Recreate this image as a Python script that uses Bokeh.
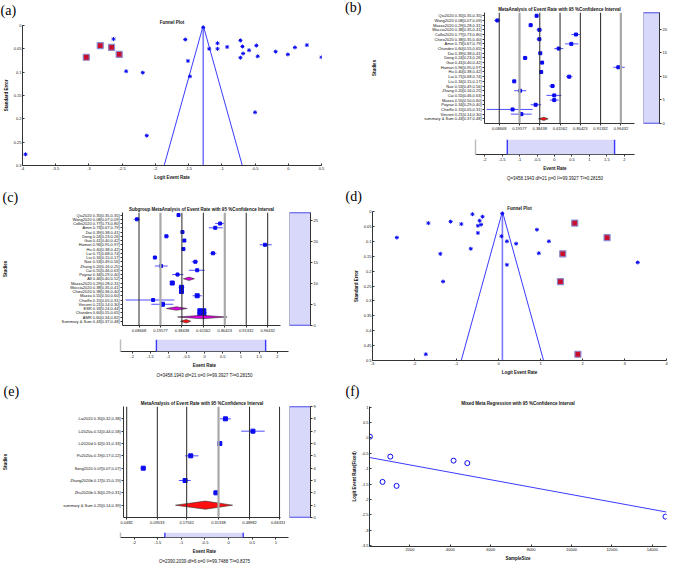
import numpy as np
from bokeh.plotting import figure
from bokeh.models import (Range1d, FixedTicker, Span, Title, BoxAnnotation, Div,
                          NumeralTickFormatter)
from bokeh.layouts import row, column
from bokeh.embed import file_html
from bokeh.resources import INLINE

SANS = "Liberation Sans"
SERIF = "Liberation Serif"
BLUE = "#3b3bff"
MARK = "#0a0af0"
LIGHTBLUE = "#7a7aff"
RED = "#ff1010"
SQRED = "#c8102e"
MAGENTA = "#dc00dc"
LAV = "#d8d8fa"
DARK = "#262626"
GRAY = "#a9a9a9"
TXT = "#111111"

# ================= DATA =================
# (a) funnel plot
a_logit = [-3.955, -2.63, -2.44, -2.19, -2.13, -1.55, -1.51, -1.48, -1.28, -1.19, -1.065, -1.065,
           -0.92, -0.72, -0.72, -0.69, -0.68, -0.59, -0.48, -0.46, -0.50, -0.19, -0.006, 0.10, 0.28, 0.50]
a_se = [0.276, 0.029, 0.098, 0.101, 0.236, 0.030, 0.076, 0.109, 0.004, 0.050, 0.038, 0.050,
        0.046, 0.032, 0.069, 0.045, 0.060, 0.053, 0.043, 0.066, 0.186, 0.056, 0.062, 0.047, 0.042, 0.068]
a_fill_logit = [-3.04, -2.83, -2.66, -2.545]
a_fill_se = [0.068, 0.043, 0.047, 0.062]
a_center = -1.28
a_xticks = [-4, -3.5, -3, -2.5, -2, -1.5, -1, -0.5, 0, 0.5]
a_yticks = [0, 0.05, 0.1, 0.15, 0.2, 0.25, 0.3]

# (d) funnel plot
d_logit = [-2.42, -1.67, -1.73, -1.385, -1.32, -1.14, -0.885, -0.66, -0.62, -0.49, -0.49, -0.45,
           -0.415, -0.38, 0.07, 0.09, 0.20, 0.20, 0.42, 0.915, 0.96, 1.20, 3.315]
d_se = [0.0875, 0.039, 0.479, 0.142, 0.235, 0.034, 0.042, 0.125, 0.009, 0.048, 0.072, 0.031,
        0.044, 0.0175, 0.083, 0.007, 0.100, 0.179, 0.108, 0.061, 0.140, 0.100, 0.171]
d_fill_logit = [1.815, 2.585, 1.53, 1.475, 1.89]
d_fill_se = [0.039, 0.0875, 0.142, 0.235, 0.479]
d_center = 0.093
d_xticks = [-3, -2, -1, 0, 1, 2, 3, 4]
d_yticks = [0, 0.05, 0.1, 0.15, 0.2, 0.25, 0.3, 0.35, 0.4, 0.45, 0.5]

# (b) meta-analysis forest plot
b_names = ["Qiu2020", "Wang2020", "Mazza2020", "Moccia2020", "Collis2020", "Chiex2020", "Amin",
           "Chundes", "Dai", "Dong", "Guo", "Hamari", "Hu", "Lai", "Liu", "Nair", "Zhang", "Cai",
           "Mazza", "Poyraz", "Chieffo", "Vincent", "summary & Sum"]
b_rate = [0.35, 0.08, 0.29, 0.38, 0.77, 0.38, 0.73, 0.60, 0.39, 0.24, 0.41, 0.96, 0.40, 0.71, 0.16,
          0.53, 0.20, 0.55, 0.55, 0.34, 0.15, 0.21, 0.43]
b_lo = [0.347, 0.07, 0.28, 0.35, 0.73, 0.35, 0.67, 0.55, 0.38, 0.23, 0.40, 0.95, 0.38, 0.68, 0.15,
        0.49, 0.16, 0.46, 0.50, 0.29, 0.05, 0.14, 0.37]
b_hi = [0.353, 0.09, 0.31, 0.41, 0.80, 0.40, 0.79, 0.65, 0.41, 0.26, 0.42, 0.97, 0.42, 0.74, 0.17,
        0.56, 0.25, 0.63, 0.60, 0.40, 0.31, 0.30, 0.48]
b_kind = ["s"] * 22 + ["t"]
b_ticks = ["0.08668", "0.19577", "0.38438", "0.61562", "0.80423", "0.91332", "0.96432"]
b_side_ticks = [0, 5, 10, 15, 20]
b_sens = [-1.35, 1.72]
b_stats = "Q=3458.1943 df=21 p=0 I\u00b2=99.3927 T\u00b2=0.28150"

# (c) subgroup forest plot
c_names = ["Qiu2020", "Wang2020", "Collis2020", "Amin", "Dai", "Dong", "Guo", "Hamari", "Hu", "Lai",
           "Liu", "Nair", "Zhang", "Cai", "Poyraz", "All", "Mazza2020", "Moccia2020", "Chiex2020",
           "Mazza", "Chieffo", "Vincent", "ESR", "Chundes", "AMR", "Summary & Sum"]
c_rate = [0.35, 0.08, 0.77, 0.73, 0.39, 0.24, 0.41, 0.96, 0.40, 0.71, 0.16, 0.53, 0.20, 0.55, 0.34,
          0.46, 0.29, 0.38, 0.38, 0.55, 0.15, 0.21, 0.33, 0.60, 0.60, 0.43]
c_lo = [0.347, 0.07, 0.73, 0.67, 0.38, 0.23, 0.40, 0.95, 0.38, 0.68, 0.15, 0.49, 0.16, 0.46, 0.29,
        0.40, 0.28, 0.35, 0.36, 0.50, 0.05, 0.14, 0.24, 0.55, 0.34, 0.37]
c_hi = [0.353, 0.09, 0.80, 0.79, 0.41, 0.26, 0.42, 0.97, 0.42, 0.74, 0.17, 0.56, 0.25, 0.63, 0.40,
        0.52, 0.31, 0.41, 0.40, 0.60, 0.31, 0.30, 0.44, 0.65, 0.82, 0.48]
c_kind = ["s"] * 15 + ["g"] + ["s"] * 6 + ["g", "s", "g", "t"]
c_ticks = ["0.08668", "0.19577", "0.38438", "0.61562", "0.80423", "0.91332", "0.96432"]
c_side_ticks = [0, 5, 10, 15, 20, 25]
c_sens = [-1.33, 1.68]
c_stats = "Q=3458.1943 df=21 p=0 I\u00b2=99.3927 T\u00b2=0.28150"

# (e) forest plot
e_names = ["Lai2020", "Li2020a", "Li2020d", "Pu2020a", "Song2020", "Zhang2020b", "Zhu2020b",
           "summary & Sum"]
e_rate = [0.35, 0.51, 0.32, 0.19, 0.07, 0.17, 0.30, 0.25]
e_lo = [0.32, 0.44, 0.31, 0.17, 0.066, 0.15, 0.29, 0.14]
e_hi = [0.38, 0.58, 0.33, 0.22, 0.074, 0.19, 0.31, 0.39]
e_kind = ["s"] * 7 + ["t"]
e_ticks = ["0.0482", "0.09533", "0.17561", "0.31338", "0.48982", "0.66331"]
e_side_ticks = [0, 1, 2, 3, 4, 5, 6, 7, 8, 9]
e_sens = [-1.35, 0.31]
e_stats = "Q=2390.2039 df=6 p=0 I\u00b2=99.7488 T\u00b2=0.8375"

# (f) meta regression
f_size = [20, 645, 1030, 1340, 4160, 4840, 14650]
f_logit = [0.04, -1.43, -0.61, -1.56, -0.74, -0.82, -2.56]
f_xticks = [2000, 4000, 6000, 8000, 10000, 12000, 14000]
f_yticks = [-3.5, -3, -2.5, -2, -1.5, -1, -0.5, 0, 0.5, 1]

sens_ticks = [-2, -1.5, -1, -0.5, 0, 0.5, 1, 1.5, 2]


# ================= HELPERS =================
def logit(v):
    v = np.asarray(v, dtype=float)
    return np.log(v / (1.0 - v))


def make_fig(w, h, l, r, t, b, xr, yr, **kw):
    return figure(width=w, height=h, x_range=xr, y_range=yr, title_location=None,
                  min_border_left=l, min_border_right=r, min_border_top=t, min_border_bottom=b,
                  output_backend="svg", toolbar_location=None, outline_line_color=None, **kw)


def style(p, tick_fs="4px", lab_fs="4.5px"):
    p.grid.visible = False
    for ax in p.axis:
        ax.major_label_text_font = SANS
        ax.major_label_text_font_size = tick_fs
        ax.major_label_text_color = TXT
        ax.axis_label_text_font = SANS
        ax.axis_label_text_font_size = lab_fs
        ax.axis_label_text_font_style = "bold"
        ax.axis_label_text_color = TXT
        ax.axis_label_standoff = 2
        ax.major_label_standoff = 1
        ax.minor_tick_line_color = None
        ax.major_tick_in = 2
        ax.major_tick_out = 0
        ax.axis_line_color = "#333333"
        ax.major_tick_line_color = "#333333"


def add_titles(p, main, label=None, label_x=0):
    # main title nearest the frame, panel letter stacked above it
    p.add_layout(Title(text=main, align="center", text_font=SANS, text_font_size="4.5px",
                       text_font_style="bold", text_color=TXT, standoff=1), "above")
    if label is not None:
        p.add_layout(Title(text=label, align="left", offset=label_x - p.min_border_left,
                           text_font=SERIF, text_font_size="14px", text_font_style="normal",
                           text_color="#000000", standoff=0), "above")


def funnel(w, h, bd, xr, se_max, xt, yt, xs, ses, fx, fse, center, lab, lab_x):
    p = make_fig(w, h, *bd, Range1d(*xr), Range1d(se_max, 0))
    z = 1.96
    p.line([center - z * se_max, center, center + z * se_max], [se_max, 0, se_max],
           line_color=BLUE, line_width=1)
    p.line([center, center], [0, se_max], line_color=LIGHTBLUE, line_width=1.6)
    p.scatter(xs, ses, marker="asterisk", size=4, line_color=MARK, line_width=1)
    p.scatter(fx, fse, marker="square", size=6, fill_color=SQRED, line_color="#8a8ad0",
              line_width=1.2)
    p.xaxis.axis_label = "Logit Event Rate"
    p.yaxis.axis_label = "Standard Error"
    p.xaxis.ticker = FixedTicker(ticks=xt)
    p.yaxis.ticker = FixedTicker(ticks=yt)
    p.xaxis.formatter = NumeralTickFormatter(format="0.[00]")
    p.yaxis.formatter = NumeralTickFormatter(format="0.[00]")
    style(p)
    add_titles(p, "Funnel Plot", lab, lab_x)
    return p


def forest(w, h, bd, xr, y_top, names, rate, lo, hi, kinds, sizes, tick_labels, line_kinds,
           title, standoff, dh, lab=None, lab_x=0):
    p = make_fig(w, h, *bd, Range1d(*xr), Range1d(0, y_top))
    n = len(names)
    ys = [n - i for i in range(n)]
    tpos = [float(v) for v in logit([float(s) for s in tick_labels])]
    for pos, k in zip(tpos, line_kinds):
        if k == "g":
            p.add_layout(Span(location=pos, dimension="height", line_color=GRAY, line_width=2.2))
        else:
            p.add_layout(Span(location=pos, dimension="height", line_color=DARK, line_width=1))
    lr, ll, lh = logit(rate), logit(lo), logit(hi)
    st = [i for i, k in enumerate(kinds) if k == "s"]
    p.segment(x0=[float(ll[i]) for i in st], y0=[ys[i] for i in st],
              x1=[float(lh[i]) for i in st], y1=[ys[i] for i in st],
              line_color=BLUE, line_width=0.9)
    p.scatter(x=[float(lr[i]) for i in st], y=[ys[i] for i in st], size=[sizes[i] for i in st],
              marker="square", fill_color=MARK, line_color=MARK)
    for kind, col in (("g", MAGENTA), ("t", RED)):
        idx = [i for i, k in enumerate(kinds) if k == kind]
        if not idx:
            continue
        p.patches(xs=[[float(ll[i]), float(lr[i]), float(lh[i]), float(lr[i])] for i in idx],
                  ys=[[ys[i], ys[i] + dh, ys[i], ys[i] - dh] for i in idx],
                  fill_color=col, line_color="#303030", line_width=0.6)
    labels = [f"{nm} {r:.2f}[{a:.2f},{b:.2f}]" for nm, r, a, b in zip(names, rate, lo, hi)]
    p.yaxis.ticker = FixedTicker(ticks=ys)
    p.yaxis.major_label_overrides = {y: s for y, s in zip(ys, labels)}
    p.yaxis.axis_label = "Studies"
    p.xaxis.ticker = FixedTicker(ticks=tpos)
    p.xaxis.major_label_overrides = {pos: s for pos, s in zip(tpos, tick_labels)}
    style(p)
    for ax in p.axis:
        ax.major_tick_in = 0
        ax.major_tick_out = 2
    p.yaxis.axis_label_standoff = standoff
    add_titles(p, title, lab, lab_x)
    return p


def side(w, h, bd, y_top, ticks):
    p = make_fig(w, h, *bd, Range1d(0, 1), Range1d(0, y_top), y_axis_location="right")
    p.background_fill_color = LAV
    p.outline_line_color = "#b4b4d8"
    p.xaxis.visible = False
    for loc in (0, y_top):
        p.add_layout(Span(location=loc, dimension="width", line_color=BLUE, line_width=1.6))
    p.yaxis.ticker = FixedTicker(ticks=ticks)
    style(p)
    for ax in p.axis:
        ax.major_tick_in = 0
        ax.major_tick_out = 2
    return p


def sens(w, h, bd, xr, box, ticks, stats):
    p = make_fig(w, h, *bd, Range1d(*xr), Range1d(0, 1))
    p.add_layout(BoxAnnotation(left=box[0], right=box[1], fill_color=LAV, fill_alpha=1,
                               line_color=None))
    for v in box:
        p.add_layout(Span(location=v, dimension="height", line_color=BLUE, line_width=1.4))
    p.xaxis.ticker = FixedTicker(ticks=ticks)
    p.xaxis.formatter = NumeralTickFormatter(format="0.[0]")
    p.xaxis.axis_label = "Event Rate"
    p.yaxis.ticker = FixedTicker(ticks=[])
    style(p)
    p.yaxis.major_tick_in = 0
    p.yaxis.major_tick_line_color = None
    p.yaxis.axis_line_color = "#bdbdbd"
    p.yaxis.axis_line_width = 1.5
    p.xaxis.major_tick_in = 0
    p.xaxis.major_tick_out = 2
    p.add_layout(Title(text=stats, align="center", text_font=SANS, text_font_size="4.5px",
                       text_font_style="normal", text_color=TXT, standoff=0), "below")
    return p


# ================= PANELS =================
# (a)
pa = funnel(332, 182, (22, 11, 14, 15), (-4, 0.5), 0.3, a_xticks, a_yticks,
            a_logit, a_se, a_fill_logit, a_fill_se, a_center, "(a)", 0)

# (b)
b_lab = Div(text='<div style="padding-left:13px;padding-top:0px;font-family:\'Liberation Serif\';'
                 'font-size:14px;line-height:14px;color:#000">(b)</div>',
            width=37, height=132, margin=(0, 0, 0, 0))
b_main = forest(271, 132, (106, 6, 7, 8), (-3.04, 3.93), 23.7, b_names, b_rate, b_lo, b_hi,
                b_kind, [3] * len(b_names), b_ticks, ["d", "g", "d", "d", "d", "d", "g"],
                "MetaAnalysis of Event Rate with 95 %Confidence Interval", 44, 0.35)
b_side = side(29, 132, (3, 9, 12, 8), 23.6, b_side_ticks)
b_bot = sens(337, 50, (143, 35, 7, 28), (-2.26, 2.29), b_sens, sens_ticks, b_stats)
pb = column(row(b_lab, b_main, b_side), b_bot)

# (c)
c_sizes = [3] * 15 + [0] + [4, 4, 4, 4, 3, 4] + [0, 8, 0, 0]
c_main = forest(285, 152, (120, 5, 27, 8), (-3.08, 3.86), 26.6, c_names, c_rate, c_lo, c_hi,
                c_kind, c_sizes, c_ticks, ["d", "g", "d", "d", "g", "d", "d"],
                "Subgroup MetaAnalysis of Event Rate with 95 %Confidence Interval", 50, 0.4,
                "(c)", 0)
c_side = side(47, 152, (4, 22, 30, 9), 27, c_side_ticks)
c_bot = sens(332, 43, (120, 44, 5, 23), (-2.32, 2.31), c_sens, sens_ticks, c_stats)
pc = column(row(c_main, c_side), c_bot)

# (d)
pd_ = funnel(337, 195, (40, 3, 29, 13), (-3, 4), 0.5, d_xticks, d_yticks,
             d_logit, d_se, d_fill_logit, d_fill_se, d_center, "(d)", 13)

# (e)
e_main = forest(285, 149, (120, 5, 28, 8), (-3.06, 0.70), 9, e_names, e_rate, e_lo, e_hi,
                e_kind, [4] * len(e_names), e_ticks, ["d", "d", "d", "g", "d", "d"],
                "MetaAnalysis of Event Rate with 95 %Confidence Interval", 52, 0.33, "(e)", 0)
e_side = side(47, 149, (4, 22, 29, 8), 9, e_side_ticks)
e_bot = sens(332, 37, (120, 44, 6, 19), (-2.29, 1.27), e_sens, sens_ticks, e_stats)
pe = column(row(e_main, e_side), e_bot)

# (f)
pf = make_fig(337, 186, 37, 3, 29, 13, Range1d(0, 14700), Range1d(-3.53, 1.02))
slope, icept = np.polyfit(f_size, f_logit, 1)
fit_x = [0, 14700]
pf.line(fit_x, [icept + slope * x for x in fit_x], line_color=BLUE, line_width=1)
pf.scatter(f_size, f_logit, marker="circle", size=5, fill_color=None, line_color=MARK,
           line_width=1)
pf.xaxis.axis_label = "SampleSize"
pf.yaxis.axis_label = "Logit Event Rate(Fixed)"
pf.xaxis.ticker = FixedTicker(ticks=f_xticks)
pf.yaxis.ticker = FixedTicker(ticks=f_yticks)
pf.xaxis.formatter = NumeralTickFormatter(format="0")
pf.yaxis.formatter = NumeralTickFormatter(format="0.[0]")
style(pf)
add_titles(pf, "Mixed Meta Regression with 95 %Confidence Interval", "(f)", 13)

layout = column(row(pa, pb), row(pc, pd_), row(pe, pf))

open("out.html", "w").write(file_html(layout, INLINE))
